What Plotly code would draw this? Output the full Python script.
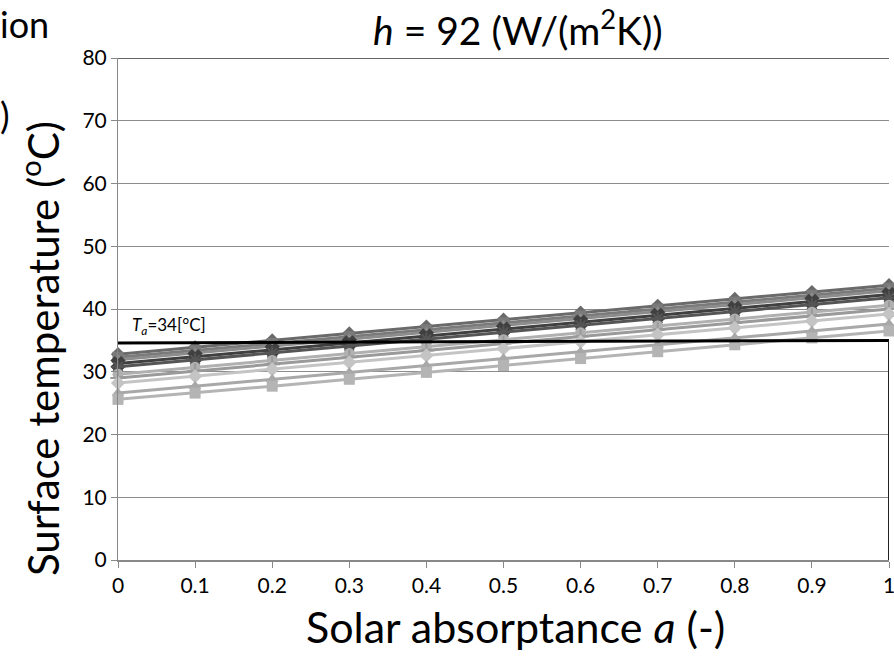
import plotly.graph_objects as go

absorptance = [0, 0.1, 0.2, 0.3, 0.4, 0.5, 0.6, 0.7, 0.8, 0.9, 1.0]

s1 = [32.8, 33.9, 35.0, 36.1, 37.2, 38.3, 39.4, 40.5, 41.6, 42.7, 43.8]
s2 = [32.3, 33.4, 34.5, 35.6, 36.7, 37.8, 38.9, 40.0, 41.1, 42.2, 43.3]
s3 = [31.9, 33.0, 34.1, 35.2, 36.3, 37.4, 38.5, 39.6, 40.7, 41.8, 42.9]
s4 = [31.3, 32.4, 33.5, 34.6, 35.7, 36.8, 37.9, 39.0, 40.1, 41.2, 42.3]
s5 = [30.8, 31.9, 33.0, 34.1, 35.2, 36.3, 37.4, 38.5, 39.6, 40.7, 41.8]
s6 = [29.6, 30.7, 31.8, 32.9, 34.0, 35.1, 36.2, 37.3, 38.4, 39.5, 40.6]
s7 = [29.0, 30.1, 31.2, 32.3, 33.4, 34.5, 35.6, 36.7, 37.8, 38.9, 40.0]
s8 = [28.2, 29.3, 30.4, 31.5, 32.6, 33.7, 34.8, 35.9, 37.0, 38.1, 39.2]
s9 = [26.6, 27.7, 28.8, 29.9, 31.0, 32.1, 33.2, 34.3, 35.4, 36.5, 37.6]
s10 = [25.6, 26.6, 27.7, 28.8, 29.9, 31.0, 32.1, 33.2, 34.3, 35.4, 36.5]

ta_x = [0, 1]
ta_y = [34.6, 35.0]

x_ticks = [0, 0.1, 0.2, 0.3, 0.4, 0.5, 0.6, 0.7, 0.8, 0.9, 1]
x_tick_text = ["0", "0.1", "0.2", "0.3", "0.4", "0.5", "0.6", "0.7", "0.8", "0.9", "1"]
y_ticks = [0, 10, 20, 30, 40, 50, 60, 70, 80]

series = [s1, s2, s3, s4, s5, s6, s7, s8, s9, s10]
symbols = ["diamond", "square", "triangle-up", "x", "asterisk", "circle", "cross-thin",
           "diamond", "triangle-up", "square"]
colors = ["#6a6a6a", "#7a7a7a", "#8c8c8c", "#404040", "#555555", "#b0b0b0", "#9a9a9a",
          "#c4c4c4", "#a8a8a8", "#b4b4b4"]

FONT = "Lato"
L, R, T, B = 118, 5, 58, 99
PW = 894 - L - R
PH = 659 - T - B

fig = go.Figure()
for vals, sym, col in zip(series, symbols, colors):
    mk = dict(symbol=sym, size=11, color=col)
    if sym in ("asterisk", "cross-thin", "x"):
        mk["line"] = dict(color=col, width=2)
    fig.add_trace(go.Scatter(x=absorptance, y=vals, mode="lines+markers",
                             line=dict(color=col, width=3), marker=mk,
                             showlegend=False, cliponaxis=False))

fig.add_trace(go.Scatter(x=ta_x, y=ta_y, mode="lines", line=dict(color="black", width=3),
                         showlegend=False, cliponaxis=False))

fig.update_layout(
    width=894, height=659,
    margin=dict(l=L, r=R, t=T, b=B, autoexpand=False),
    plot_bgcolor="white", paper_bgcolor="white",
    font=dict(family=FONT, color="black", size=21),
    xaxis=dict(range=[0, 1], tickvals=x_ticks, ticktext=x_tick_text, showgrid=False,
               zeroline=False, showline=True, linecolor="#888888", linewidth=2,
               ticks="outside", ticklen=6, tickcolor="#888888", automargin=False,
               ticklabeloverflow="allow", tickfont=dict(size=21, family=FONT)),
    yaxis=dict(range=[0, 80], tickvals=y_ticks, showgrid=True, gridcolor="#8c8c8c",
               gridwidth=1, zeroline=False, showline=True, linecolor="#888888",
               linewidth=1, ticks="outside", ticklen=6, tickcolor="#888888",
               automargin=False, ticklabeloverflow="allow",
               tickfont=dict(size=21, family=FONT)),
    shapes=[
        dict(type="line", xref="x", yref="y", x0=0, x1=1, y0=80, y1=80,
             line=dict(color="#333333", width=1.5)),
        dict(type="line", xref="x", yref="y", x0=1, x1=1, y0=0, y1=35,
             line=dict(color="#222222", width=2)),
    ],
    annotations=[
        dict(text="<i>h</i> = 92 (W/(m<sup>2</sup>K))", xref="paper", yref="paper",
             x=(518 - L) / PW, y=1 + (T - 27) / PH, xanchor="center", yanchor="middle",
             showarrow=False, font=dict(size=39, family=FONT)),
        dict(text="Solar absorptance <i>a</i> (-)", xref="paper", yref="paper",
             x=(515 - L) / PW, y=-(627 - (T + PH)) / PH, xanchor="center", yanchor="middle",
             showarrow=False, font=dict(size=43, family=FONT)),
        dict(text="Surface temperature (<sup>o</sup>C)", xref="paper", yref="paper",
             x=-(L - 40) / PW, y=((T + PH) - 349) / PH, xanchor="center", yanchor="middle",
             textangle=-90, showarrow=False, font=dict(size=42, family=FONT)),
        dict(text="<i>T</i><sub><i>a</i></sub>=34[°C]", xref="x", yref="y",
             x=0.0, y=35.0, xanchor="left", yanchor="bottom", xshift=12,
             showarrow=False, font=dict(size=17, family=FONT)),
        dict(text="ion", xref="paper", yref="paper",
             x=-(L + 2) / PW, y=1 + (T - 24) / PH, xanchor="left", yanchor="middle",
             showarrow=False, font=dict(size=36, family=FONT)),
        dict(text=")", xref="paper", yref="paper",
             x=-(L + 2) / PW, y=1 - (115 - T) / PH, xanchor="left", yanchor="middle",
             showarrow=False, font=dict(size=36, family=FONT)),
    ],
)

fig.write_html("out.html", config={"displayModeBar": False},
               post_script="document.body.style.margin='0';document.body.style.padding='0';")
